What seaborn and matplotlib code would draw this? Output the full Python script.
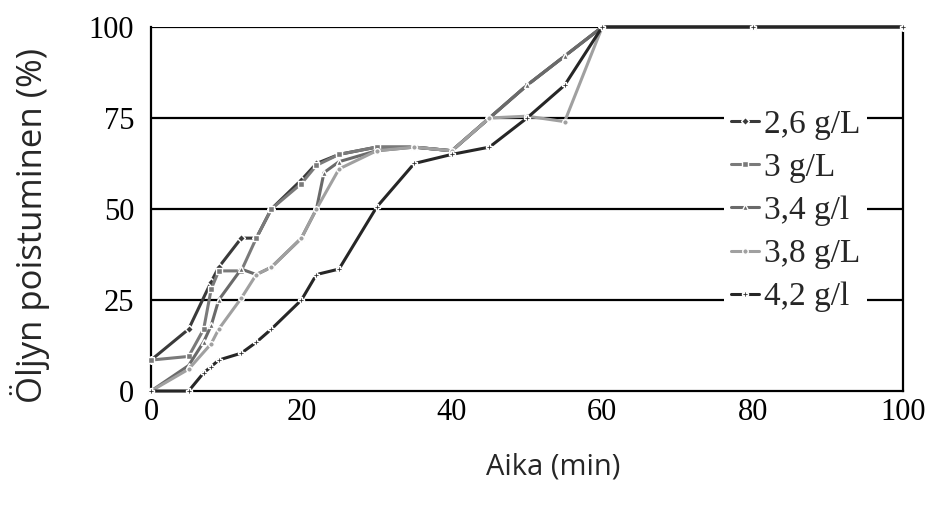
import pandas as pd
import matplotlib
matplotlib.use("Agg")
import matplotlib.pyplot as plt
import seaborn as sns

# data
series_names = ["2,6 g/L", "3 g/L", "3,4 g/l", "3,8 g/L", "4,2 g/l"]

t_26 = [0, 5, 8, 9, 12, 14, 16, 20, 22, 25, 30, 35, 40, 45, 50, 55, 60, 80, 100]
v_26 = [8.5, 17, 30, 34, 42, 42, 50, 58, 62.5, 65, 67, 67, 66, 75, 84, 92, 100, 100, 100]

t_30 = [0, 5, 7, 8, 9, 12, 14, 16, 20, 22, 25, 30, 35, 40, 45, 50, 55, 60, 80, 100]
v_30 = [8.5, 9.5, 17, 28, 33, 33, 42, 50, 57, 62, 65, 67, 67, 66, 75, 84, 92, 100, 100, 100]

t_34 = [0, 5, 7, 8, 9, 12, 14, 16, 20, 22, 23, 25, 30, 35, 40, 45, 50, 55, 60, 80, 100]
v_34 = [0, 7, 13.5, 18, 25, 33.5, 32, 34, 42, 50, 60, 63, 66, 67, 66, 75, 84, 92, 100, 100, 100]

t_38 = [0, 5, 8, 9, 12, 14, 16, 20, 22, 25, 30, 35, 40, 45, 50, 55, 60, 80, 100]
v_38 = [0, 6, 13, 17, 25.5, 32, 34, 42, 50, 61, 66, 67, 66, 75, 75.5, 74, 100, 100, 100]

t_42 = [0, 5, 7, 8, 9, 12, 14, 16, 20, 22, 25, 30, 35, 40, 45, 50, 55, 60, 80, 100]
v_42 = [0, 0, 5, 6.7, 8.5, 10.4, 13.4, 17, 25, 32, 33.5, 50.5, 62.5, 65, 67, 75, 84, 100, 100, 100]

frames = []
for name, t, v in zip(series_names, [t_26, t_30, t_34, t_38, t_42],
                      [v_26, v_30, v_34, v_38, v_42]):
    frames.append(pd.DataFrame({"Aika": t, "Poistuminen": v, "Pitoisuus": name}))
df = pd.concat(frames, ignore_index=True)

sns.set_style("white")
plt.rcParams["font.family"] = ["Liberation Serif", "DejaVu Serif"]

palette = {"2,6 g/L": "#3a3a3a", "3 g/L": "#7a7a7a", "3,4 g/l": "#6a6a6a",
           "3,8 g/L": "#a0a0a0", "4,2 g/l": "#262626"}
markers = {"2,6 g/L": "D", "3 g/L": "s", "3,4 g/l": "^", "3,8 g/L": "o", "4,2 g/l": "P"}

fig = plt.figure(figsize=(9.3, 5.12), dpi=100)
ax = fig.add_axes([0.1624, 0.2363, 0.8086, 0.711])

sns.lineplot(data=df, x="Aika", y="Poistuminen", hue="Pitoisuus", style="Pitoisuus",
             palette=palette, markers=markers, dashes=False, sort=False,
             linewidth=2.2, markersize=4, markeredgewidth=1, ax=ax,
             clip_on=False, zorder=3)

ax.set_xlim(0, 100)
ax.set_ylim(0, 100)
ax.set_xticks([0, 20, 40, 60, 80, 100])
ax.set_yticks([0, 25, 50, 75, 100])
for y in [25, 50, 75, 100]:
    ax.axhline(y, color="black", linewidth=1.6, zorder=1)

ax.spines["top"].set_visible(False)
for s in ["left", "bottom", "right"]:
    ax.spines[s].set_color("black")
    ax.spines[s].set_linewidth(1.6)

ax.tick_params(axis="x", direction="in", length=8, width=1.3, labelsize=22, pad=5,
               colors="black")
ax.tick_params(axis="y", length=0, labelsize=22, pad=12, colors="black")

ax.set_xlabel("Aika (min)", fontsize=21, family="Open Sans")
ax.xaxis.set_label_coords(0.535, -0.168)
ax.set_ylabel("Öljyn poistuminen (%)", fontsize=25, family="Open Sans")
ax.yaxis.set_label_coords(-0.134, 0.456)

leg = ax.legend(loc="center left", bbox_to_anchor=(0.762, 0.495), fontsize=24,
                frameon=True, facecolor="white", edgecolor="none", framealpha=1,
                handlelength=0.85, handletextpad=0.15, labelspacing=0.38,
                borderpad=0.2, borderaxespad=0, title=None)
leg.set_zorder(5)

fig.savefig("out.png", dpi=100)
